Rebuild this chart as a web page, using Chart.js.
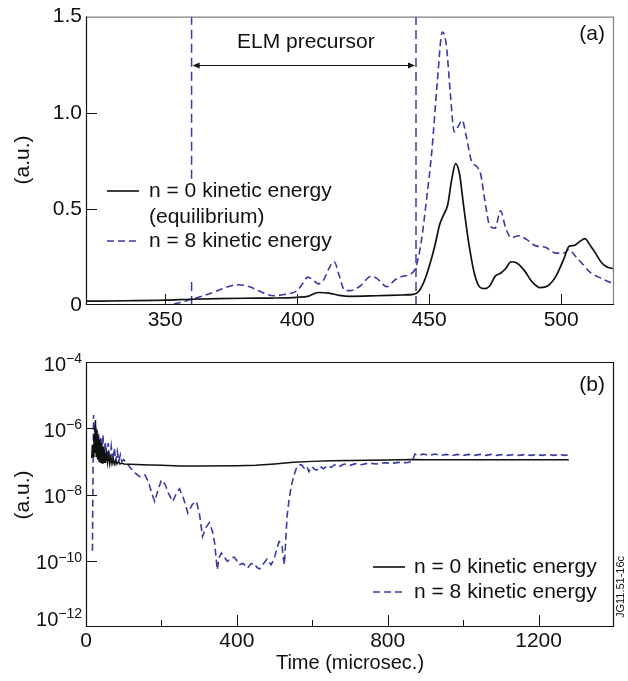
<!DOCTYPE html>
<html>
<head>
<meta charset="utf-8">
<script src="https://cdn.jsdelivr.net/npm/chart.js@4.4.1/dist/chart.umd.min.js"></script>
<style>
  html, body { margin: 0; padding: 0; background: #fff; }
  #wrap { position: relative; width: 628px; height: 681px; overflow: hidden; }
  canvas { position: absolute; left: 0; }
  #panelA { top: 0; }
  #panelB { top: 340px; }
</style>
</head>
<body>
<div id="wrap">
  <canvas id="panelA" width="628" height="340"></canvas>
  <canvas id="panelB" width="628" height="341"></canvas>
</div>
<script>
const FONT = '"Liberation Sans", Arial, Helvetica, sans-serif';
const BLUE = '#3a3aa2';
const BLACK = '#111';

// ---- panel (a): kinetic energy around the ELM crash ----
const n0TimeA = [320, 335, 350, 360, 370, 380, 390, 400, 404, 408, 412, 416, 420, 430, 440, 444, 446, 448, 450, 452,
  454, 455.5, 457, 458.5, 460, 461.5, 463, 465, 467, 469, 471, 473, 475, 477, 479, 481, 483, 486, 489, 492,
  495, 498, 501, 503, 505, 507, 509, 511, 513, 515, 517, 520];
const n0EnergyA = [0.02, 0.022, 0.025, 0.03, 0.033, 0.035, 0.036, 0.04, 0.045, 0.065, 0.062, 0.05, 0.045, 0.048, 0.052, 0.055, 0.07, 0.12, 0.2, 0.3,
  0.42, 0.47, 0.52, 0.65, 0.735, 0.68, 0.52, 0.32, 0.17, 0.095, 0.085, 0.1, 0.15, 0.165, 0.19, 0.225, 0.22, 0.18, 0.12, 0.09,
  0.1, 0.15, 0.24, 0.305, 0.31, 0.33, 0.345, 0.31, 0.27, 0.225, 0.2, 0.188];

const n8TimeA = [320, 350, 355, 360, 365, 370, 375, 378, 382, 386, 391, 395, 400, 402, 404, 406, 408, 410, 412, 414,
  416, 418, 420, 424, 428, 430, 434, 437, 440, 443, 445, 447, 449, 451, 453, 455, 456.5, 458, 459.5, 461,
  462.5, 464, 466, 468, 469.5, 471, 473, 475, 477, 479, 481, 484, 487, 490, 494, 498, 501, 503, 505, 507,
  511, 515, 520];
const n8EnergyA = [0, 0, 0.01, 0.03, 0.05, 0.075, 0.1, 0.105, 0.095, 0.07, 0.048, 0.055, 0.075, 0.11, 0.145, 0.13, 0.11, 0.13, 0.19, 0.225,
  0.15, 0.075, 0.075, 0.1, 0.15, 0.14, 0.095, 0.13, 0.15, 0.16, 0.2, 0.33, 0.55, 0.8, 1.15, 1.42, 1.35, 1.1, 0.9, 0.93,
  0.96, 0.88, 0.75, 0.72, 0.68, 0.55, 0.41, 0.4, 0.49, 0.4, 0.35, 0.36, 0.34, 0.31, 0.3, 0.27, 0.27, 0.29, 0.26, 0.23,
  0.17, 0.14, 0.11];

const precursorBounds = [360, 445];
const precursorArrowLevel = 1.25;
// the left marker is interrupted where the legend sits
const legendGapA = [0.144, 0.657];
const xTicksA = [350, 400, 450, 500];
const yTicksA = [0, 0.5, 1.0, 1.5];

// ---- panel (b): whole run, log scale (values stored as log10) ----
const n0TimeB = [15, 17, 19, 21, 23, 25, 27, 29, 31, 33, 35, 37, 39, 41, 43, 45, 47, 49, 51, 54,
  57, 60, 63, 66, 69, 72, 75, 78, 82, 86, 90, 95, 100, 150, 200, 250, 300, 400, 450, 500,
  550, 600, 650, 700, 800, 870, 900, 1000, 1100, 1200, 1280];
const n0LogB = [-6.9, -6.5, -6.85, -6.2, -6.75, -5.75, -6.85, -6.05, -6.95, -6.25, -7.0, -6.35, -7.05, -6.45, -7.05, -6.55, -7.05, -6.65, -7.05, -6.75,
  -7.05, -6.8, -7.08, -6.88, -7.08, -6.93, -7.08, -6.97, -7.08, -7.0, -7.08, -7.05, -7.08, -7.1, -7.12, -7.14, -7.14, -7.13, -7.12, -7.08,
  -7.03, -7.0, -6.98, -6.97, -6.96, -6.94, -6.95, -6.95, -6.95, -6.95, -6.95];

const n8TimeB = [17, 18.5, 20, 22, 24, 26, 28, 30, 33, 36, 39, 42, 45, 48, 51, 55, 59, 63, 67, 71,
  75, 79, 83, 87, 91, 95, 100, 108, 118, 130, 142, 150, 156, 165, 174, 182, 190, 200, 210, 220,
  230, 240, 248, 258, 270, 282, 293, 301, 309, 318, 327, 335, 341, 348, 353, 359, 367, 375, 384, 393,
  400, 406, 417, 428, 437, 446, 453, 460, 470, 480, 486, 491, 500, 507, 512, 516, 520, 523, 526, 529,
  533, 538, 544, 552, 558, 565, 571, 578, 585, 591, 599, 606, 612, 620, 630, 640, 650, 660, 672, 685,
  700, 715, 730, 750, 770, 790, 810, 830, 850, 865, 872, 880, 895, 910, 925, 940, 955, 970, 985, 1000,
  1015, 1030, 1045, 1060, 1075, 1090, 1105, 1120, 1135, 1150, 1165, 1180, 1195, 1210, 1225, 1240, 1255, 1270, 1280];
const n8LogB = [-9.7, -7.5, -5.6, -6.3, -5.85, -6.6, -6.0, -6.75, -6.15, -6.85, -6.25, -6.9, -6.2, -6.95, -6.4, -7.0, -6.45, -7.0, -6.55, -7.0,
  -6.6, -7.0, -6.7, -7.0, -6.8, -7.0, -6.95, -7.05, -7.2, -7.35, -7.46, -7.42, -7.41, -7.6, -7.95, -8.21, -7.9, -7.56, -7.7, -8.0,
  -8.21, -7.95, -7.83, -8.1, -8.56, -8.3, -8.21, -8.6, -9.27, -9.0, -8.85, -9.1, -9.46, -10.27, -9.9, -9.77, -9.9, -10.02, -9.92, -9.89,
  -10.0, -10.12, -10.08, -10.22, -10.1, -10.07, -10.2, -10.25, -10.1, -9.95, -10.05, -10.12, -9.9, -9.6, -9.42, -9.45, -9.57, -9.9, -10.12, -9.5,
  -8.67, -8.2, -7.76, -7.4, -7.2, -7.11, -7.1, -7.2, -7.14, -7.31, -7.16, -7.24, -7.26, -7.15, -7.22, -7.13, -7.18, -7.1, -7.15, -7.08,
  -7.12, -7.07, -7.1, -7.05, -7.08, -7.04, -7.06, -7.03, -7.04, -7.0, -6.78, -6.82, -6.78, -6.82, -6.78, -6.82, -6.79, -6.83, -6.79, -6.82,
  -6.79, -6.82, -6.79, -6.82, -6.79, -6.82, -6.79, -6.82, -6.79, -6.82, -6.79, -6.82, -6.79, -6.82, -6.79, -6.82, -6.79, -6.82, -6.8];

const xTicksB = [0, 400, 800, 1200];
const xMinorTicksB = [200, 600, 1000];
const yExponentsB = [-4, -6, -8, -10, -12];

function toPoints(xs, ys) {
  return xs.map((x, i) => ({ x: x, y: ys[i] }));
}
function toLogPoints(xs, logs) {
  return xs.map((x, i) => ({ x: x, y: Math.pow(10, logs[i]) }));
}

// frame round the plot area; top/right edges may be lighter
function drawFrame(ctx, a, sideColor) {
  ctx.save();
  ctx.lineWidth = 1.2;
  ctx.strokeStyle = sideColor;
  ctx.beginPath();
  ctx.moveTo(a.left, a.top + 0.5);
  ctx.lineTo(a.right - 0.5, a.top + 0.5);
  ctx.lineTo(a.right - 0.5, a.bottom);
  ctx.stroke();
  ctx.strokeStyle = BLACK;
  ctx.beginPath();
  ctx.moveTo(a.left + 0.5, a.top);
  ctx.lineTo(a.left + 0.5, a.bottom - 0.5);
  ctx.lineTo(a.right, a.bottom - 0.5);
  ctx.stroke();
  ctx.restore();
}

// tick marks point into the plot
function drawInTicksX(ctx, a, scale, values, len) {
  ctx.save();
  ctx.strokeStyle = BLACK;
  ctx.lineWidth = 1;
  values.forEach(v => {
    const px = Math.round(scale.getPixelForValue(v)) + 0.5;
    ctx.beginPath();
    ctx.moveTo(px, a.bottom);
    ctx.lineTo(px, a.bottom - len);
    ctx.stroke();
  });
  ctx.restore();
}
function drawInTicksY(ctx, a, scale, values, len) {
  ctx.save();
  ctx.strokeStyle = BLACK;
  ctx.lineWidth = 1;
  values.forEach(v => {
    const py = Math.round(scale.getPixelForValue(v)) + 0.5;
    ctx.beginPath();
    ctx.moveTo(a.left, py);
    ctx.lineTo(a.left + len, py);
    ctx.stroke();
  });
  ctx.restore();
}

function legendLine(ctx, x1, x2, y, color, dash) {
  ctx.save();
  ctx.strokeStyle = color;
  ctx.lineWidth = 1.6;
  ctx.setLineDash(dash);
  ctx.beginPath();
  ctx.moveTo(x1, y);
  ctx.lineTo(x2, y);
  ctx.stroke();
  ctx.restore();
}

function rotatedText(ctx, text, x, y, font) {
  ctx.save();
  ctx.translate(x, y);
  ctx.rotate(-Math.PI / 2);
  ctx.font = font;
  ctx.textAlign = 'center';
  ctx.textBaseline = 'middle';
  ctx.fillText(text, 0, 0);
  ctx.restore();
}

const panelADecor = {
  id: 'panelADecor',
  afterDraw(chart) {
    const { ctx, chartArea: a, scales } = chart;
    const sx = scales.x, sy = scales.y;

    drawFrame(ctx, a, '#808080');
    drawInTicksX(ctx, a, sx, xTicksA, 11);
    drawInTicksY(ctx, a, sy, [0.5, 1.0], 11);

    // double arrow spanning the precursor window
    const x1 = sx.getPixelForValue(precursorBounds[0]) + 1;
    const x2 = sx.getPixelForValue(precursorBounds[1]) - 1;
    const ay = Math.round(sy.getPixelForValue(precursorArrowLevel)) + 0.5;
    ctx.save();
    ctx.strokeStyle = BLACK;
    ctx.fillStyle = BLACK;
    ctx.lineWidth = 1;
    ctx.beginPath();
    ctx.moveTo(x1 + 4, ay);
    ctx.lineTo(x2 - 4, ay);
    ctx.stroke();
    ctx.beginPath();
    ctx.moveTo(x1, ay); ctx.lineTo(x1 + 7, ay - 3); ctx.lineTo(x1 + 7, ay + 3); ctx.closePath();
    ctx.fill();
    ctx.beginPath();
    ctx.moveTo(x2, ay); ctx.lineTo(x2 - 7, ay - 3); ctx.lineTo(x2 - 7, ay + 3); ctx.closePath();
    ctx.fill();
    ctx.font = '21px ' + FONT;
    ctx.textAlign = 'center';
    ctx.textBaseline = 'middle';
    ctx.fillText('ELM precursor', (x1 + x2) / 2 + 2, 42);
    ctx.restore();

    legendLine(ctx, 107, 139, 191, BLACK, []);
    legendLine(ctx, 107, 139, 241, BLUE, [7, 4]);
    ctx.save();
    ctx.fillStyle = BLACK;
    ctx.font = '21px ' + FONT;
    ctx.textAlign = 'left';
    ctx.textBaseline = 'middle';
    ctx.fillText('n = 0 kinetic energy', 149, 191);
    ctx.fillText('(equilibrium)', 149, 217);
    ctx.fillText('n = 8 kinetic energy', 149, 241);
    ctx.textAlign = 'right';
    ctx.fillText('(a)', 605, 34);
    ctx.restore();

    ctx.fillStyle = BLACK;
    rotatedText(ctx, '(a.u.)', 23, 160, '21px ' + FONT);
  }
};

const panelBDecor = {
  id: 'panelBDecor',
  afterDraw(chart) {
    const { ctx, chartArea: a, scales } = chart;
    const sx = scales.x, sy = scales.y;

    drawFrame(ctx, a, BLACK);
    drawInTicksX(ctx, a, sx, xTicksB, 12);
    drawInTicksX(ctx, a, sx, xMinorTicksB, 7);
    drawInTicksY(ctx, a, sy, [1e-6, 1e-8, 1e-10], 11);

    // 10^n labels with raised exponent
    ctx.save();
    ctx.fillStyle = BLACK;
    ctx.textBaseline = 'middle';
    yExponentsB.forEach(e => {
      const py = sy.getPixelForValue(Math.pow(10, e));
      const cy = Math.min(py + 3, a.bottom - 7);
      const exp = '\u2212' + Math.abs(e);
      ctx.font = '14px ' + FONT;
      const expW = ctx.measureText(exp).width;
      ctx.textAlign = 'right';
      ctx.fillText(exp, 82, cy - 6);
      ctx.font = '20px ' + FONT;
      ctx.fillText('10', 82 - expW, cy);
    });
    ctx.restore();

    legendLine(ctx, 373, 405, 227, BLACK, []);
    legendLine(ctx, 373, 405, 252, BLUE, [7, 4]);
    ctx.save();
    ctx.fillStyle = BLACK;
    ctx.font = '21px ' + FONT;
    ctx.textBaseline = 'middle';
    ctx.textAlign = 'left';
    ctx.fillText('n = 0 kinetic energy', 414, 227);
    ctx.fillText('n = 8 kinetic energy', 414, 252);
    ctx.textAlign = 'right';
    ctx.fillText('(b)', 605, 45);
    ctx.textAlign = 'center';
    ctx.font = '20px ' + FONT;
    ctx.fillText('Time (microsec.)', 350, 323);
    ctx.restore();

    ctx.fillStyle = BLACK;
    rotatedText(ctx, '(a.u.)', 23, 155, '21px ' + FONT);
    rotatedText(ctx, 'JG11.51-16c', 621, 247, '11px ' + FONT);
  }
};

const tickFont = { family: FONT, size: 21, lineHeight: 1.2 };

new Chart(document.getElementById('panelA'), {
  type: 'line',
  data: {
    datasets: [
      { data: toPoints(n0TimeA, n0EnergyA), borderColor: BLACK, borderWidth: 1.7,
        pointRadius: 0, cubicInterpolationMode: 'monotone' },
      { data: toPoints(n8TimeA, n8EnergyA), borderColor: BLUE, borderWidth: 1.6, borderDash: [7, 4],
        pointRadius: 0, cubicInterpolationMode: 'monotone' },
      { data: [{ x: precursorBounds[0], y: 0 }, { x: precursorBounds[0], y: legendGapA[0] },
               { x: precursorBounds[0], y: null },
               { x: precursorBounds[0], y: legendGapA[1] }, { x: precursorBounds[0], y: 1.5 }],
        borderColor: BLUE, borderWidth: 1.5, borderDash: [9, 5], pointRadius: 0, spanGaps: false },
      { data: [{ x: precursorBounds[1], y: 0 }, { x: precursorBounds[1], y: 1.5 }],
        borderColor: BLUE, borderWidth: 1.5, borderDash: [9, 5], pointRadius: 0 }
    ]
  },
  options: {
    responsive: false,
    animation: false,
    events: [],
    layout: { padding: { top: 13, right: 14, left: 0, bottom: 0 } },
    plugins: { legend: { display: false }, tooltip: { enabled: false } },
    scales: {
      x: {
        type: 'linear', min: 320, max: 520,
        grid: { display: false, drawTicks: false },
        border: { display: false },
        afterBuildTicks: s => { s.ticks = xTicksA.map(v => ({ value: v })); },
        afterFit: s => { s.height = 35; },
        ticks: { color: BLACK, font: tickFont, padding: 3, maxRotation: 0, callback: v => String(v) }
      },
      y: {
        type: 'linear', min: 0, max: 1.5,
        grid: { display: false, drawTicks: false },
        border: { display: false },
        afterBuildTicks: s => { s.ticks = yTicksA.map(v => ({ value: v })); },
        afterFit: s => { s.width = 86; },
        ticks: { color: BLACK, font: tickFont, padding: 4,
          callback: v => (v === 0 ? '0' : v.toFixed(1)) }
      }
    }
  },
  plugins: [panelADecor]
});

new Chart(document.getElementById('panelB'), {
  type: 'line',
  data: {
    datasets: [
      { data: toLogPoints(n0TimeB, n0LogB), borderColor: BLACK, borderWidth: 1.5,
        pointRadius: 0, tension: 0 },
      { data: toLogPoints(n8TimeB, n8LogB), borderColor: BLUE, borderWidth: 1.6, borderDash: [7, 4],
        pointRadius: 0, tension: 0 }
    ]
  },
  options: {
    responsive: false,
    animation: false,
    events: [],
    layout: { padding: { top: 22, right: 14, left: 0, bottom: 0 } },
    plugins: { legend: { display: false }, tooltip: { enabled: false } },
    scales: {
      x: {
        type: 'linear', min: 0, max: 1400,
        grid: { display: false, drawTicks: false },
        border: { display: false },
        afterBuildTicks: s => { s.ticks = xTicksB.map(v => ({ value: v })); },
        afterFit: s => { s.height = 54; },
        ticks: { color: BLACK, font: tickFont, padding: 2, maxRotation: 0, callback: v => String(v) }
      },
      y: {
        type: 'logarithmic', min: 1e-12, max: 1e-4,
        grid: { display: false, drawTicks: false },
        border: { display: false },
        afterBuildTicks: s => { s.ticks = yExponentsB.map(e => ({ value: Math.pow(10, e) })); },
        afterFit: s => { s.width = 86; },
        ticks: { display: false }
      }
    }
  },
  plugins: [panelBDecor]
});
</script>
</body>
</html>
